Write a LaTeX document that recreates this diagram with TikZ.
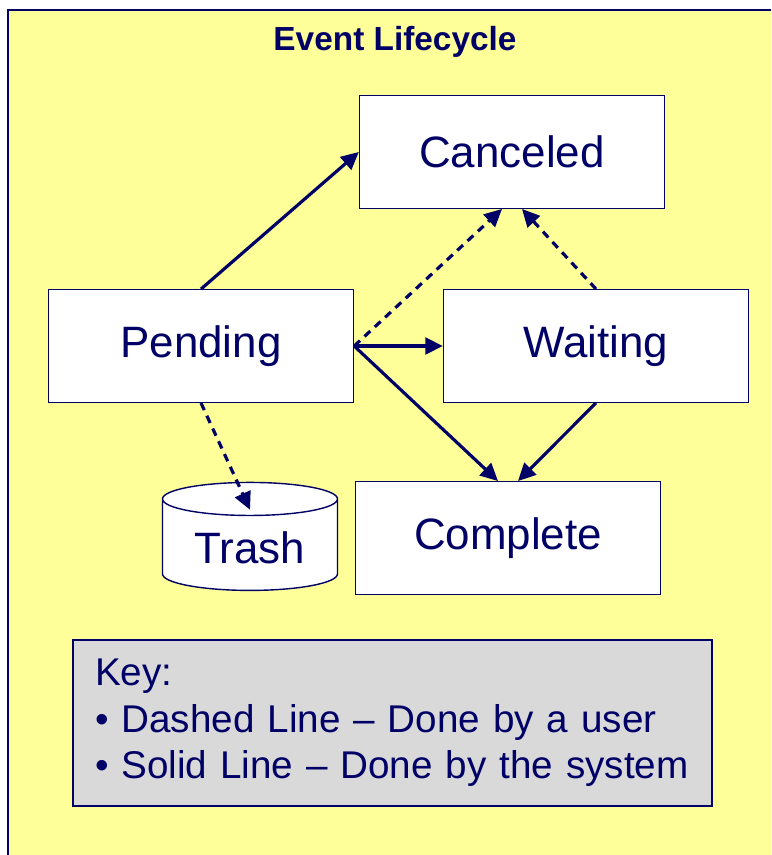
\documentclass[tikz,border=0pt]{standalone}
\usepackage{fontspec}
\setmainfont{Liberation Sans}
\usepackage{tikz}
\usetikzlibrary{arrows.meta, positioning, shapes.geometric}
\definecolor{lifeNavy}{HTML}{000066}
\definecolor{lifeYellow}{HTML}{FFFF99}
\definecolor{lifeGray}{HTML}{D9D9D9}

\begin{document}
\begin{tikzpicture}[
  x=0.02cm, y=-0.02cm,
  >={Triangle[length=10pt, width=9.5pt]},
  system/.style={->, line width=1.8pt, draw=lifeNavy},
  user/.style={->, line width=1.8pt, draw=lifeNavy, dash pattern=on 4.5pt off 3.5pt},
  statebox/.style={draw=lifeNavy, thick, fill=white, text=lifeNavy,
    font=\fontsize{25}{30}\selectfont, minimum width=6.1cm, minimum height=2.25cm},
  bin/.style={cylinder, shape border rotate=90, aspect=0.27, draw=lifeNavy, thick,
    fill=white, text=lifeNavy, font=\fontsize{25}{30}\selectfont,
    minimum width=3.5cm, minimum height=2.16cm},
  keybox/.style={draw=lifeNavy, thick, fill=lifeGray, text=lifeNavy, align=left,
    font=\fontsize{22}{26.5}\selectfont, text width=11.9cm, inner xsep=0.44cm,
    minimum height=3.32cm}
]

  \useasboundingbox (0,0) rectangle (771,855);
  \fill[lifeYellow] (8,10) rectangle (771,855);
  \draw[lifeNavy, thick] (8,855) -- (8,10) -- (771,10);

  \node[font=\fontsize{19}{23}\selectfont\bfseries, text=lifeNavy] (title) at (395,42) {Event Lifecycle};

  \node[statebox] (canceled) at (512,152) {Canceled};
  \node[statebox] (pending) at (201,346) {Pending};
  \node[statebox] (waiting) at (596,346) {Waiting};
  \node[statebox] (complete) at (508,538) {Complete};
  \node[bin] (trash) at (250,548) {Trash};

  \draw[system] (pending.north) -- (canceled.west);
  \draw[user] (pending.east) -- ([xshift=-0.2cm]canceled.south);
  \draw[user] (waiting.north) -- ([xshift=0.2cm]canceled.south);
  \draw[system] (pending.east) -- (waiting.west);
  \draw[system] (pending.east) -- ([xshift=-0.2cm]complete.north);
  \draw[system] (waiting.south) -- ([xshift=0.2cm]complete.north);
  \draw[user] (pending.south) -- ([yshift=-0.56cm]trash.north);

  \node[keybox] (key) at (392.5,723)
    {Key:\\\textbullet\ Dashed Line -- Done by a user\\\textbullet\ Solid Line -- Done by the system};

\end{tikzpicture}
\end{document}
